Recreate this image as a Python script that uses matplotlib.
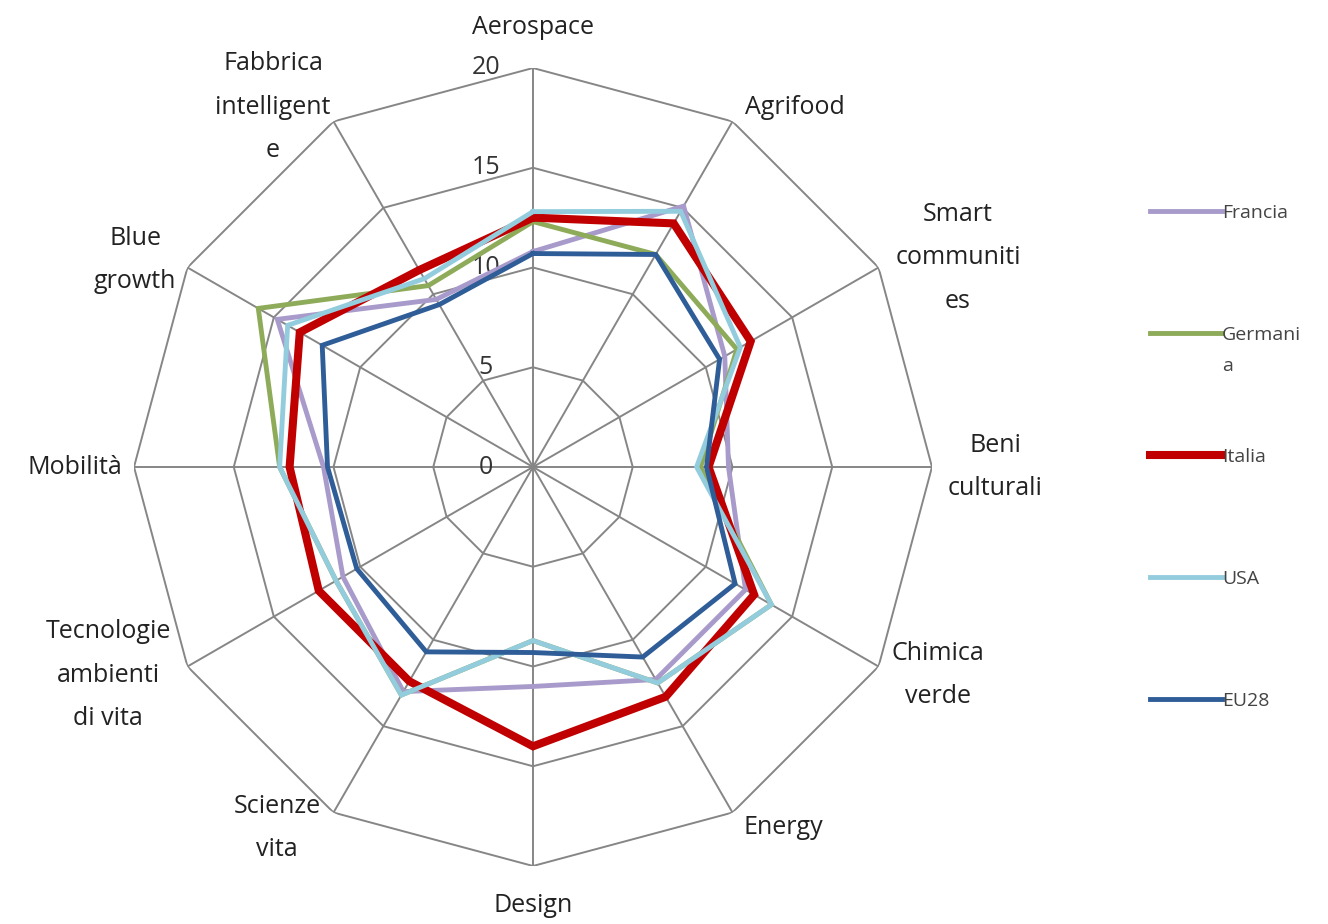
import numpy as np
import matplotlib
matplotlib.use("Agg")
import matplotlib.pyplot as plt

plt.rcParams['font.family'] = ['Open Sans', 'DejaVu Sans']

# DATA
categories = ["Aerospace", "Agrifood", "Smart\ncommuniti\nes", "Beni\nculturali",
              "Chimica\nverde", "Energy", "Design", "Scienze\nvita",
              "Tecnologie\nambienti\ndi vita", "Mobilità", "Blue\ngrowth",
              "Fabbrica\nintelligent\ne"]
# Germania's label wraps in the original ("Germani" / "a")
series_names = ["Francia", "Germani", "Italia", "USA", "EU28"]
francia = [10.8, 15.1, 11.1, 9.8, 12.3, 12.3, 11.0, 13.0, 11.0, 10.5, 14.8, 9.7]
germania = [12.3, 12.3, 11.8, 8.4, 13.8, 12.5, 8.7, 13.2, 11.4, 12.7, 15.9, 10.5]
italia = [12.5, 14.1, 12.6, 8.8, 12.8, 13.3, 14.0, 12.4, 12.4, 12.2, 13.5, 11.4]
usa = [12.8, 14.8, 12.0, 8.2, 13.8, 12.5, 8.7, 13.2, 11.4, 12.7, 14.2, 10.9]
eu28 = [10.7, 12.3, 10.8, 8.7, 11.7, 11.0, 9.3, 10.7, 10.2, 10.3, 12.2, 9.4]
ticks = [0, 5, 10, 15, 20]

colors = ["#a89bcb", "#8eab5a", "#c00000", "#93cddd", "#2f5d98"]
widths = [3.5, 3.5, 5.8, 3.5, 3.5]

# label positions in pixels (layout only)
label_px = [(533, 27), (795, 107), (958, 258), (995, 467), (938, 675), (783, 828),
            (533, 905), (277, 828), (108, 675), (75, 467), (135, 260), (273, 107)]

W, H = 1328, 924
fig = plt.figure(figsize=(W / 100, H / 100), dpi=100)
cx, cy, R = 533, 467, 399
ax = fig.add_axes([(cx - R) / W, (H - cy - R) / H, 2 * R / W, 2 * R / H], projection='polar')
ax.set_theta_zero_location('N')
ax.set_theta_direction(-1)
ax.set_ylim(0, 20)
ax.axis('off')

n = len(categories)
angles = np.linspace(0, 2 * np.pi, n, endpoint=False)
closed = np.append(angles, angles[0])

# polygon grid + spokes
for t in ticks[1:]:
    ax.plot(closed, [t] * (n + 1), color="#868686", lw=1.4, zorder=1)
for a in angles:
    ax.plot([a, a], [0, 20], color="#868686", lw=1.4, zorder=1)

all_series = [francia, germania, italia, usa, eu28]
for name, vals, c, w in zip(series_names, all_series, colors, widths):
    ax.plot(closed, vals + vals[:1], color=c, lw=w, label=name, zorder=3,
            solid_joinstyle='miter')

# radial tick labels
for t in ticks:
    ax.annotate(str(t), xy=(0, t), xytext=(-34, 0), textcoords='offset points',
                ha='center', va='center', fontsize=18, color="#333333", zorder=2)

for lab, (px, py) in zip(categories, label_px):
    fig.text(px / W, 1 - py / H, lab, ha='center', va='center', fontsize=18,
             color="#222222", linespacing=1.95)

leg = fig.legend(loc='upper left', bbox_to_anchor=(1150 / W, 1 - 204 / H),
                 frameon=False, fontsize=14, handlelength=3.7, handletextpad=0.0,
                 labelspacing=5.35, borderaxespad=0, borderpad=0)
for t in leg.get_texts():
    t.set_color("#444444")

# wrapped remainder of "Germania" under its legend entry (drawn after the legend)
wrap = plt.Annotation("a", xy=(0, 0), xycoords=leg.get_texts()[1],
                      xytext=(0, -22), textcoords='offset pixels',
                      ha='left', va='center', fontsize=14, color="#444444")
wrap.set_zorder(10)
fig.add_artist(wrap)

fig.savefig("out.png", dpi=100, facecolor="white")
